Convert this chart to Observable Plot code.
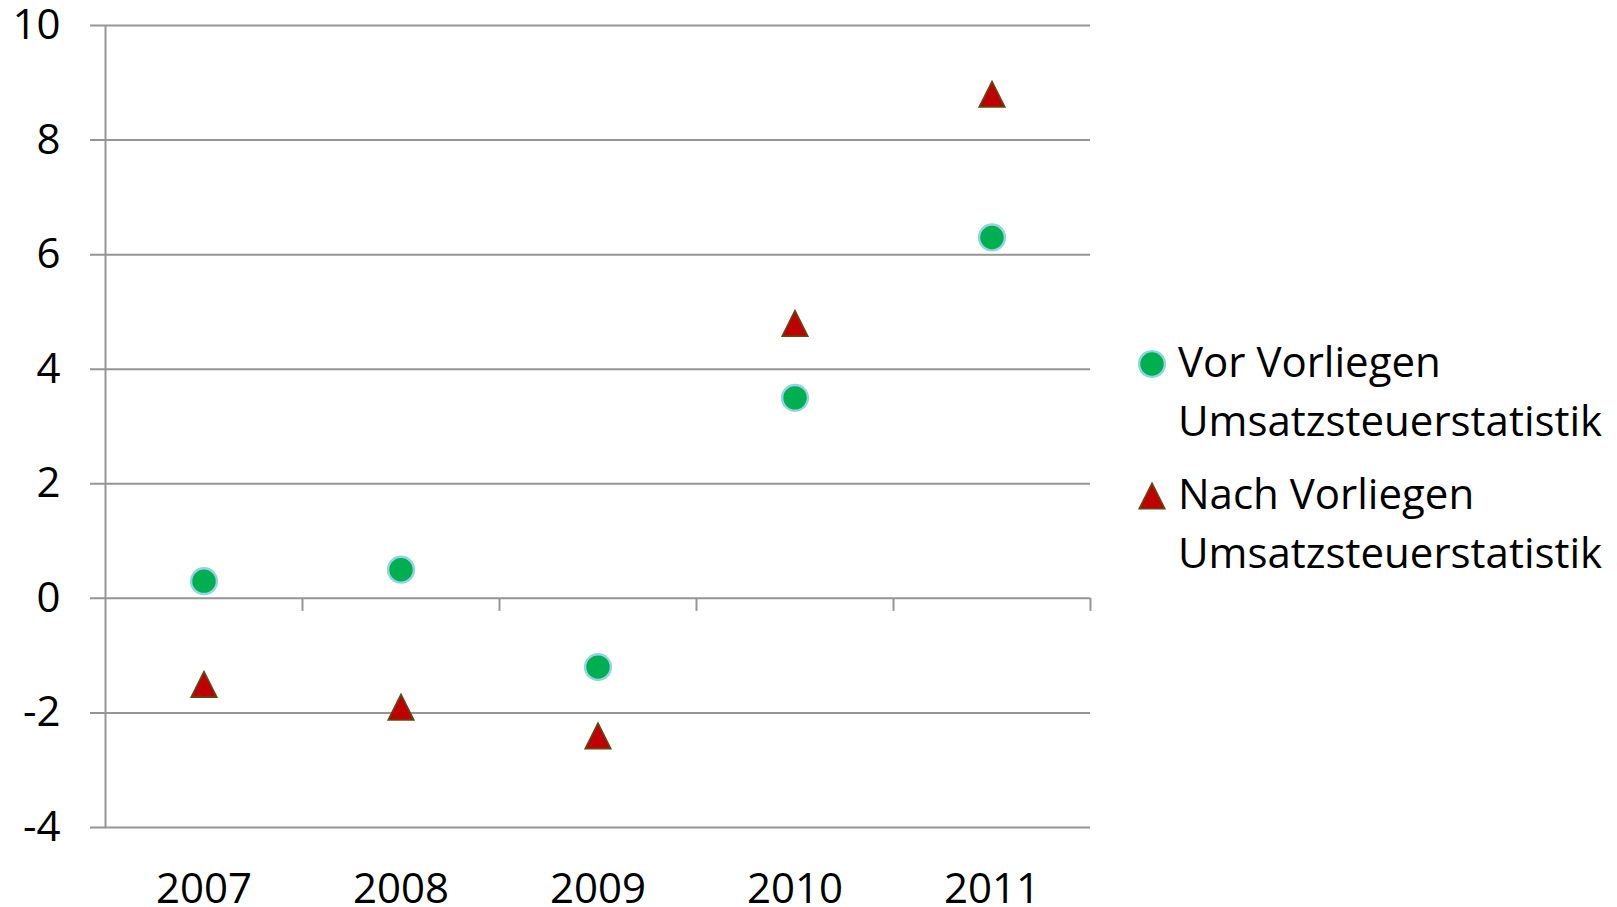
<!DOCTYPE html>
<html>
<head>
<meta charset="utf-8">
<script src="https://cdn.jsdelivr.net/npm/d3@7"></script>
<script src="https://cdn.jsdelivr.net/npm/@observablehq/plot@0.6"></script>
<style>
  html, body { margin: 0; padding: 0; background: #fff; }
  #wrap { position: relative; width: 1617px; height: 907px; font-family: "Open Sans", sans-serif; }
  .legend-item { position: absolute; left: 1178px; font-size: 42px; line-height: 59px; color: #000; white-space: nowrap; }
  .legend-sym { position: absolute; }
</style>
</head>
<body>
<div id="wrap"></div>
<script>
// Data
const years = ["2007", "2008", "2009", "2010", "2011"];
const vorValues = [0.3, 0.5, -1.2, 3.5, 6.3];
const nachValues = [-1.5, -1.9, -2.4, 4.8, 8.8];
const seriesNames = ["Vor Vorliegen Umsatzsteuerstatistik", "Nach Vorliegen Umsatzsteuerstatistik"];
const yTicks = [-4, -2, 0, 2, 4, 6, 8, 10];

const vor = years.map((y, i) => ({pos: i + 1, year: y, value: vorValues[i]}));
const nach = years.map((y, i) => ({pos: i + 1, year: y, value: nachValues[i]}));
const boundaries = years.map((y, i) => i + 1.5);

const grid = "#959595";
const font = "Open Sans";

// Triangle centered on its bounding box (as in the spreadsheet markers)
const boxTriangle = {
  draw(context, size) {
    const a = Math.sqrt(size / Math.PI);
    context.moveTo(0, -a);
    context.lineTo(a, a);
    context.lineTo(-a, a);
    context.closePath();
  }
};

const circleStyle = {r: 12.9, fill: "#00B050", stroke: "#92D3EA", strokeWidth: 2.4};
const triStyle = {r: 12.8, fill: "#C00000", stroke: "#5E4A12", strokeWidth: 1.6};

const chart = Plot.plot({
  width: 1617,
  height: 907,
  marginLeft: 105,
  marginRight: 527,
  marginTop: 25,
  marginBottom: 80,
  style: {fontFamily: font, fontSize: "42px", color: "#000", background: "#fff"},
  x: {type: "linear", domain: [0.5, years.length + 0.5]},
  y: {type: "linear", domain: [-4, 10]},
  marks: [
    Plot.ruleY(yTicks, {stroke: grid, strokeWidth: 2, insetLeft: -15}),
    Plot.ruleX([0.5], {y1: -4, y2: 10, stroke: grid, strokeWidth: 2}),
    Plot.ruleX(boundaries, {y1: 0, y2: 0, insetBottom: -13, stroke: grid, strokeWidth: 2}),
    Plot.axisY({ticks: yTicks, tickSize: 0, tickPadding: 45, label: null, fontSize: 42, tickFormat: d => String(d)}),
    Plot.axisX({ticks: years.map((y, i) => i + 1), tickFormat: d => years[d - 1], tickSize: 0, tickPadding: 46, label: null, fontSize: 42}),
    Plot.dot(vor, {x: "pos", y: "value", ...circleStyle}),
    Plot.dot(nach, {x: "pos", y: "value", symbol: boxTriangle, ...triStyle})
  ]
});

const wrap = document.getElementById("wrap");
wrap.appendChild(chart);

// Legend
function addItem(top, lines) {
  const d = document.createElement("div");
  d.className = "legend-item";
  d.style.top = top + "px";
  d.innerHTML = lines.join("<br>");
  wrap.appendChild(d);
}
function addSymbol(cx, cy, kind) {
  const ns = "http://www.w3.org/2000/svg";
  const s = document.createElementNS(ns, "svg");
  s.setAttribute("width", 40); s.setAttribute("height", 40);
  s.setAttribute("class", "legend-sym");
  s.style.left = (cx - 20) + "px"; s.style.top = (cy - 20) + "px";
  const p = document.createElementNS(ns, "path");
  const st = kind === "circle" ? circleStyle : triStyle;
  const sym = kind === "circle" ? d3.symbolCircle : boxTriangle;
  p.setAttribute("d", d3.symbol(sym, Math.PI * st.r * st.r)());
  p.setAttribute("fill", st.fill); p.setAttribute("stroke", st.stroke); p.setAttribute("stroke-width", st.strokeWidth);
  p.setAttribute("transform", "translate(20,20)");
  s.appendChild(p);
  wrap.appendChild(s);
}
addItem(331, [seriesNames[0].replace(" Umsatz", "<br>Umsatz")]);
addItem(463, [seriesNames[1].replace(" Umsatz", "<br>Umsatz")]);
addSymbol(1152, 364, "circle");
addSymbol(1152, 496, "triangle");
</script>
</body>
</html>
